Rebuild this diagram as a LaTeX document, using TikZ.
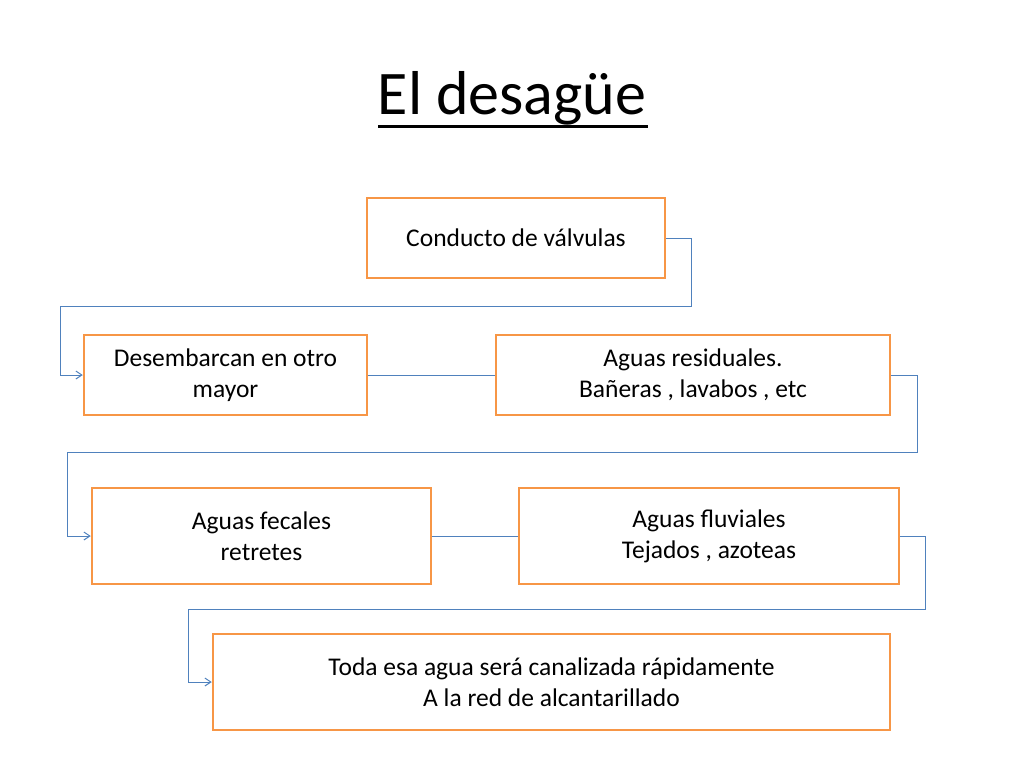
\documentclass[tikz,border=0pt]{standalone}
\usepackage{fontspec}
\setmainfont{Carlito}
\usetikzlibrary{arrows.meta}
\definecolor{org}{RGB}{247,150,70}
\definecolor{blu}{RGB}{79,129,189}
\begin{document}
\begin{tikzpicture}[x=1pt,y=-1pt,
  bx/.style={draw=org,line width=2.5pt,align=center,font=\fontsize{25.5}{31}\selectfont,inner sep=0pt},
  cn/.style={draw=blu,line width=1pt},
  ar/.style={cn,-{Straight Barb[length=6pt,width=8pt]}}]
\useasboundingbox (0,0) rectangle (1024,768);
\node[font=\fontsize{62}{66}\selectfont,inner sep=0pt] (t) at (512,98) {El desagüe};
\draw[line width=3pt] (378,126) -- (648,126);
\node[bx,minimum width=298pt,minimum height=80pt] (b1) at (516,238) {Conducto de válvulas};
\node[bx,minimum width=283pt,minimum height=80pt] (b2) at (225.5,375) {Desembarcan en otro\\mayor};
\node[bx,minimum width=394pt,minimum height=80pt] (b3) at (693,375) {Aguas residuales.\\Bañeras , lavabos , etc};
\node[bx,minimum width=339pt,minimum height=96pt] (b4) at (261.5,536) {Aguas fecales\\retretes};
\node[bx,minimum width=380pt,minimum height=96pt] (b5) at (709,536) {Aguas fluviales\\Tejados , azoteas};
\node[bx,minimum width=677pt,minimum height=96pt] (b6) at (551.5,682) {Toda esa agua será canalizada rápidamente\\A la red de alcantarillado};
\draw[ar] (b1.east) -- ++(25,0) |- (60,306) |- (b2.west);
\draw[cn] (b2.east) -- (b3.west);
\draw[ar] (b3.east) -- ++(26,0) |- (67,452) |- (b4.west);
\draw[cn] (b4.east) -- (b5.west);
\draw[ar] (b5.east) -- ++(25,0) |- (188,609) |- (b6.west);
\end{tikzpicture}
\end{document}
